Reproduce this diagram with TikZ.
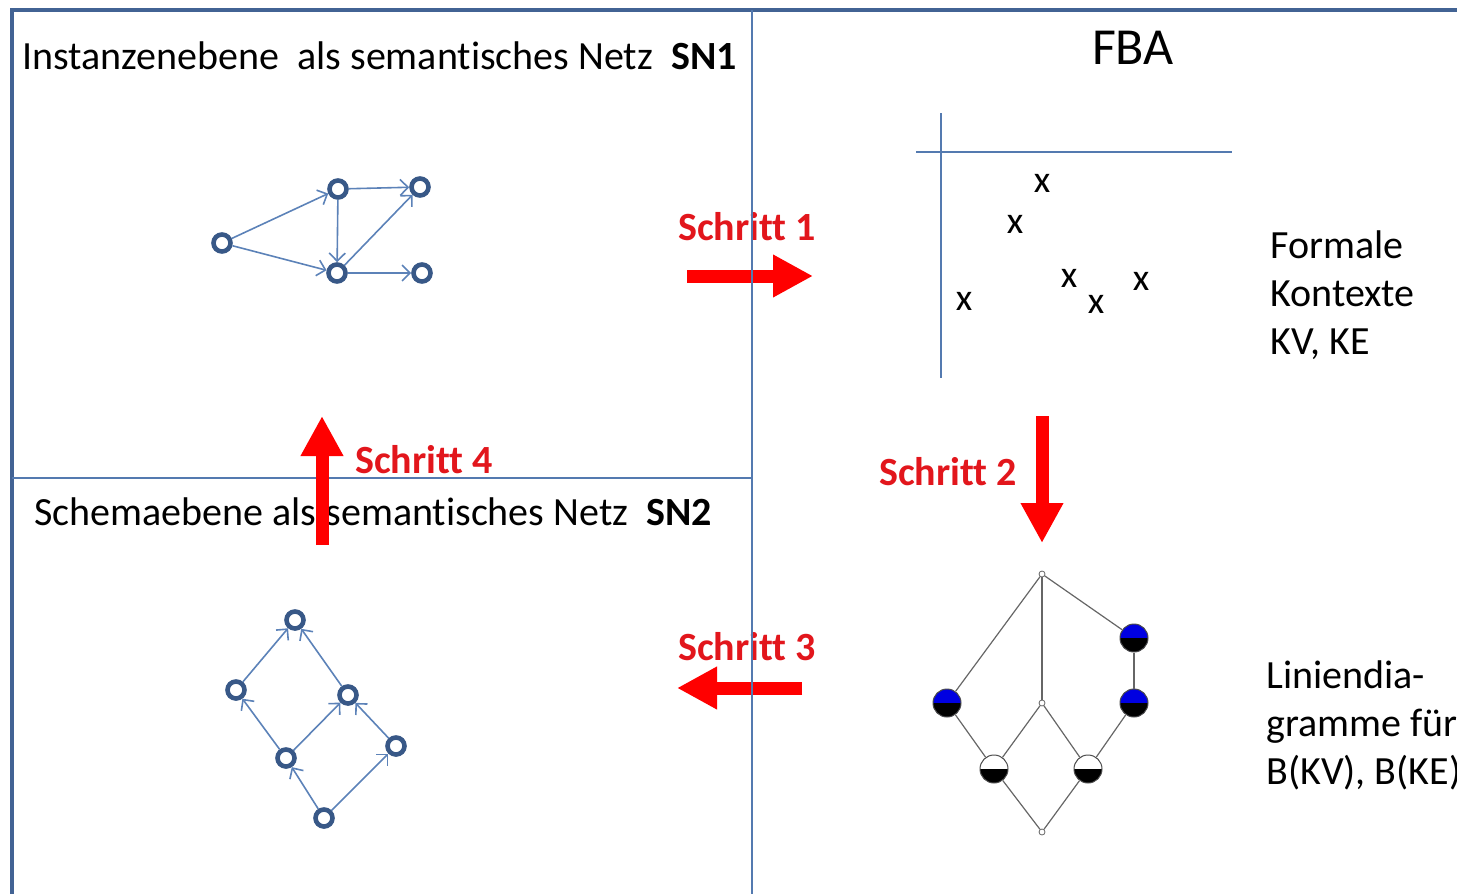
\documentclass[tikz,border=0pt]{standalone}
\usepackage{fontspec}
\setmainfont[Ligatures=NoCommon]{Carlito}
\usetikzlibrary{arrows.meta}

\definecolor{framec}{RGB}{66,99,148}
\definecolor{linec}{RGB}{84,122,176}
\definecolor{snc}{RGB}{56,88,135}
\definecolor{edgec}{RGB}{92,130,184}
\definecolor{stepred}{RGB}{226,22,28}
\definecolor{latblue}{RGB}{0,0,225}

\begin{document}
\begin{tikzpicture}[x=0.5pt,y=-0.5pt]

\tikzstyle{snnode}=[circle,draw=snc,line width=2.3pt,minimum size=8.5pt,inner sep=0pt]
\tikzstyle{snedge}=[draw=edgec,line width=0.8pt,-{Straight Barb[length=4pt,width=8pt]}]
\tikzstyle{latnode}=[circle,draw=black!70,line width=0.5pt,minimum size=14pt,inner sep=0pt,fill=latblue,path picture={\fill[black] (path picture bounding box.south west) rectangle (path picture bounding box.east);}]
\tikzstyle{latwhite}=[latnode,fill=white]
\tikzstyle{latdot}=[circle,draw=black!60,line width=0.4pt,minimum size=3pt,inner sep=0pt,fill=white]
\tikzstyle{latedge}=[draw=black!60,line width=0.6pt]
\tikzstyle{stepar}=[red,line width=6.5pt,-{Triangle[length=20pt,width=20pt]}]
\tikzstyle{steplabel}=[text=stepred,font=\fontsize{20}{24}\selectfont\bfseries,inner sep=0pt]
\tikzstyle{headtext}=[font=\fontsize{20}{24}\selectfont,inner sep=0pt,anchor=west]
\tikzstyle{xmark}=[font=\fontsize{19}{22}\selectfont,inner sep=0pt]

\useasboundingbox (0,0) rectangle (1457,894);

% frame
\draw[framec,line width=2pt] (12,894)--(12,10)--(1457,10);
\draw[linec,line width=0.8pt] (12,478)--(752,478);

% titles
\node[headtext] (sn1) at (22,56) {Instanzenebene\ \ als semantisches Netz\ \ \textbf{SN1}};
\node[headtext] (sn2) at (34,512) {Schemaebene als semantisches Netz\ \ \textbf{SN2}};
\node[font=\fontsize{26}{30}\selectfont,inner sep=0pt] (fba) at (1133,48) {FBA};
\node[headtext,align=left] (fk) at (1270,295) {Formale\\Kontexte\\KV, KE};
\node[headtext,align=left] (ld) at (1266,725) {Liniendia-\\gramme für\\B(KV), B(KE)};

% SN1
\node[snnode] (i1) at (222,243) {};
\node[snnode] (i2) at (338,189) {};
\node[snnode] (i3) at (420,187) {};
\node[snnode] (i4) at (337,273) {};
\node[snnode] (i5) at (422,273) {};

\draw[snedge] (i1)--(i2);
\draw[snedge] (i1)--(i4);
\draw[snedge] (i2)--(i3);
\draw[snedge] (i2)--(i4);
\draw[snedge] (i4)--(i3);
\draw[snedge] (i4)--(i5);

% SN2
\node[snnode] (s1) at (295,620) {};
\node[snnode] (s2) at (236,690) {};
\node[snnode] (s3) at (348,695) {};
\node[snnode] (s4) at (286,758) {};
\node[snnode] (s5) at (396,746) {};
\node[snnode] (s6) at (324,818) {};

\draw[snedge] (s6)--(s4);
\draw[snedge] (s6)--(s5);
\draw[snedge] (s4)--(s2);
\draw[snedge] (s4)--(s3);
\draw[snedge] (s5)--(s3);
\draw[snedge] (s2)--(s1);
\draw[snedge] (s3)--(s1);

% context
\draw[linec,line width=0.7pt] (941,113)--(941,378);
\draw[linec,line width=0.7pt] (916,152)--(1232,152);
\node[xmark] (x1) at (1042,183) {x};
\node[xmark] (x2) at (1015,224) {x};
\node[xmark] (x3) at (964,301) {x};
\node[xmark] (x4) at (1069,278) {x};
\node[xmark] (x5) at (1096,304) {x};
\node[xmark] (x6) at (1141,281) {x};

% lattice
\node[latdot] (v1) at (1042,574) {};
\node[latnode] (v2) at (1134,638) {};
\node[latnode] (v3) at (947,703) {};
\node[latdot] (v4) at (1042,703) {};
\node[latnode] (v5) at (1134,703) {};
\node[latwhite] (v6) at (994,769) {};
\node[latwhite] (v7) at (1088,769) {};
\node[latdot] (v8) at (1042,832) {};

\draw[latedge] (v1)--(v3);
\draw[latedge] (v1)--(v4);
\draw[latedge] (v1)--(v2);
\draw[latedge] (v2)--(v5);
\draw[latedge] (v3)--(v6);
\draw[latedge] (v4)--(v6);
\draw[latedge] (v4)--(v7);
\draw[latedge] (v5)--(v7);
\draw[latedge] (v6)--(v8);
\draw[latedge] (v7)--(v8);

% steps
\node[steplabel] (st1) at (747,227) {Schritt 1};
\node[steplabel] (st2) at (948,472) {Schritt 2};
\node[steplabel] (st3) at (747,647) {Schritt 3};
\node[steplabel] (st4) at (424,460) {Schritt 4};

\coordinate (a1s) at (687,276);
\coordinate (a1e) at (813,276);
\coordinate (a2s) at (1042,416);
\coordinate (a2e) at (1042,543);
\coordinate (a3s) at (802,688);
\coordinate (a3e) at (677,688);
\coordinate (a4s) at (322,545);
\coordinate (a4e) at (322,416);

\draw[stepar] (a1s)--(a1e);
\draw[stepar] (a2s)--(a2e);
\draw[stepar] (a3s)--(a3e);
\draw[stepar] (a4s)--(a4e);

\draw[linec,line width=0.8pt] (752,10)--(752,894);

\end{tikzpicture}
\end{document}
